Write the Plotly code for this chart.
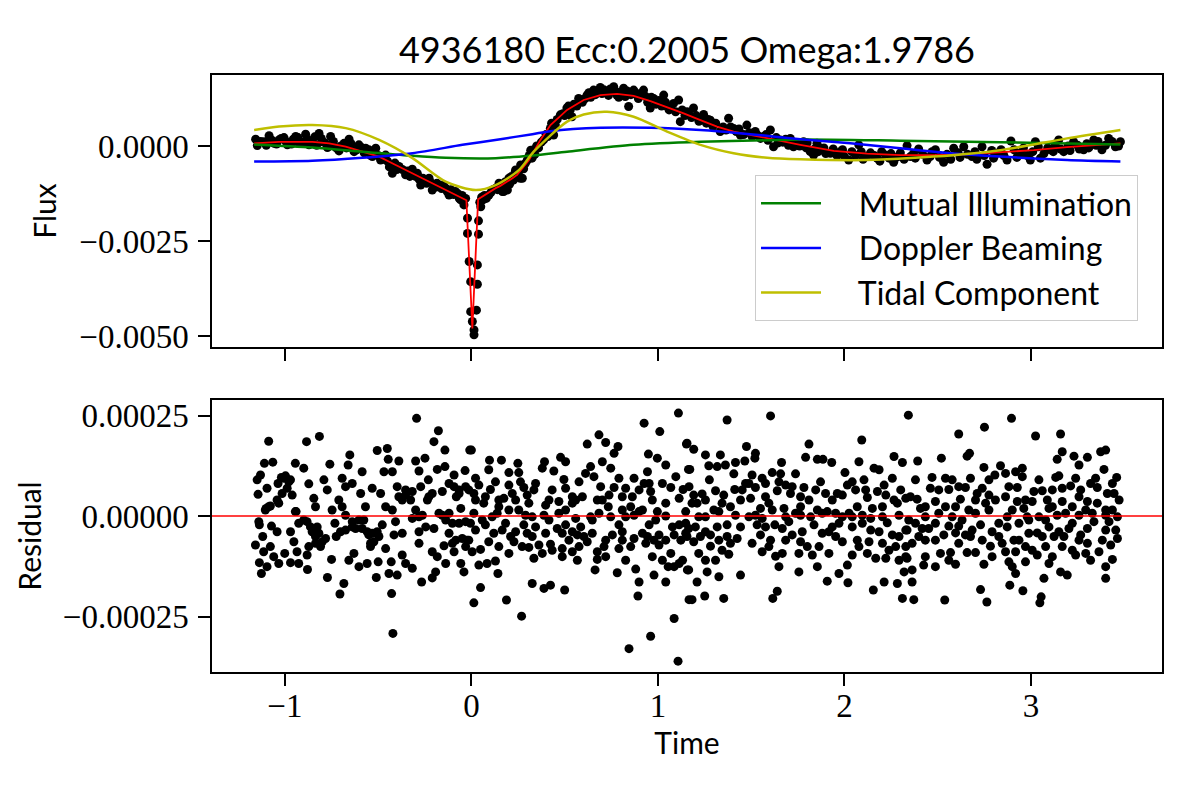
import plotly.graph_objects as go

# light curve fit
# flux values in units of 1e-3, residuals in units of 1e-5

model_t = [-1.165, -1.031, -0.853, -0.763, -0.674, -0.584, -0.495, -0.406, -0.316, -0.227,
           -0.138, -0.066, -0.027, 0.005, 0.036, 0.130, 0.155, 0.220, 0.245, 0.309, 0.334,
           0.370, 0.424, 0.513, 0.602, 0.692, 0.781, 0.870, 0.960, 1.049, 1.138, 1.228,
           1.317, 1.406, 1.496, 1.586, 1.764, 1.943, 2.122, 2.300, 2.479, 2.658, 2.836,
           3.015, 3.194, 3.373, 3.480]
model_f = [0.07, 0.11, 0.11, 0.07, -0.02, -0.15, -0.28, -0.50, -0.72, -0.94,
           -1.16, -1.33, -1.43, -4.80, -1.40, -1.11, -1.05, -0.85, -0.76, -0.37, -0.15,
           0.16, 0.55, 0.95, 1.21, 1.34, 1.37, 1.32, 1.18, 1.03, 0.86, 0.68,
           0.51, 0.38, 0.29, 0.20, 0.03, -0.13, -0.20, -0.24, -0.24, -0.22, -0.17,
           -0.11, -0.03, 0.04, 0.07]

illum_t = [-1.165, -0.853, -0.584, -0.316, -0.138, 0.130, 0.327, 0.513, 0.870, 1.228,
           1.586, 1.764, 2.300, 2.836, 3.480]
illum_f = [0.04, -0.04, -0.15, -0.26, -0.31, -0.32, -0.25, -0.15, 0.03, 0.11,
           0.15, 0.17, 0.14, 0.10, 0.04]

beam_t = [-1.165, -0.853, -0.584, -0.316, -0.048, 0.155, 0.327, 0.424, 0.692, 0.960,
          1.228, 1.496, 1.764, 2.032, 2.300, 2.568, 2.836, 3.194, 3.480]
beam_f = [-0.41, -0.39, -0.31, -0.19, 0.03, 0.18, 0.31, 0.39, 0.48, 0.48,
          0.42, 0.31, 0.18, 0.07, -0.06, -0.19, -0.28, -0.37, -0.41]

tidal_t = [-1.165, -1.031, -0.853, -0.674, -0.495, -0.316, -0.138, 0.023, 0.130, 0.256,
           0.334, 0.513, 0.602, 0.727, 0.870, 1.049, 1.228, 1.406, 1.586, 1.764,
           2.122, 2.479, 2.836, 3.194, 3.480]
tidal_f = [0.42, 0.51, 0.55, 0.47, 0.16, -0.32, -0.94, -1.16, -1.03, -0.63,
           -0.15, 0.64, 0.83, 0.90, 0.77, 0.38, 0.03, -0.19, -0.31, -0.35,
           -0.37, -0.28, -0.11, 0.20, 0.42]

# observed flux, outer dots of the band and the eclipse
data_t = [-1.157, -1.148, -1.112, -1.085, -1.058, -1.032, -1.005, -0.987, -0.942, -0.924,
          -0.889, -0.871, -0.817, -0.799, -0.772, -0.755, -0.710, -0.683, -0.656, -0.629,
          -0.603, -0.567, -0.513, -0.531, -0.487, -0.460, -0.424, -0.433, -0.388, -0.353,
          -0.317, -0.290, -0.272, -0.227, -0.210, -0.174, -0.138, -0.120, -0.085, -0.058,
          -0.040, -0.031,
          -0.021, -0.021, -0.012, -0.004, -0.004, 0.005, 0.014, 0.014, 0.038, 0.038,
          0.032, 0.032, 0.027,
          0.050, 0.062, 0.094, 0.130, 0.148, 0.166, 0.193, 0.201, 0.237, 0.273,
          0.264, 0.300, 0.318,
          0.173, 0.191, 0.262, 0.235, 0.325, 0.334, 0.387, 0.423, 0.441, 0.477,
          0.512, 0.539, 0.584, 0.620, 0.655, 0.691, 0.727, 0.763, 0.780, 0.816,
          0.843, 0.870, 0.923, 0.959, 0.977, 1.031, 1.049, 1.084, 1.111, 1.120,
          1.156, 1.191, 1.245, 1.281, 1.334, 1.379, 1.406, 1.442, 1.477, 1.522,
          1.567, 1.603, 1.620, 1.656, 1.710, 1.727, 1.781, 1.817, 1.853,
          1.782, 1.835, 1.871, 1.925, 1.978, 2.023, 2.077, 2.121, 2.175, 2.220,
          2.264, 2.336, 2.354, 2.398, 2.443, 2.488, 2.532, 2.586, 2.640, 2.684,
          2.738, 2.765, 2.818, 2.872, 2.893, 2.943, 2.997, 3.024, 3.051, 3.104,
          3.149, 3.176, 3.229, 3.283, 3.337, 3.381, 3.417, 3.453, 3.480]
data_f = [0.18, 0.01, 0.11, 0.27, 0.07, 0.16, 0.22, 0.03, 0.25, 0.07,
          0.31, 0.03, 0.33, 0.11, -0.04, 0.25, -0.13, 0.07, 0.18, -0.15,
          0.03, -0.06, -0.06, -0.28, -0.37, -0.24, -0.72, -0.50, -0.54, -0.76,
          -0.61, -0.72, -1.03, -0.85, -1.16, -1.03, -1.11, -1.29, -1.20, -1.42,
          -1.55, -1.38,
          -1.90, -2.30, -3.04, -3.57, -4.36, -4.62, -4.84, -4.97, -1.97, -2.32,
          -3.13, -3.64, -4.32,
          -1.60, -1.42, -1.29, -1.11, -0.98, -1.20, -1.16, -0.85, -0.63, -0.85,
          -0.50, -0.37, -0.11,
          -1.20, -1.07, -0.85, -0.68, -0.32, -0.10, 0.16, 0.46, 0.29, 0.82,
          1.00, 0.77, 1.21, 1.34, 1.47, 1.54, 1.43, 1.56, 1.34, 1.52,
          1.04, 1.47, 1.47, 1.00, 1.25, 1.34, 1.04, 1.12, 1.21, 0.64,
          0.90, 1.00, 0.83, 0.68, 0.38, 0.73, 0.46, 0.29, 0.55, 0.38,
          0.25, 0.42, -0.02, 0.16, 0.20, -0.02, 0.11, -0.15, 0.07,
          0.03, -0.24, -0.06, -0.19, -0.15, -0.37, 0.03, -0.28, -0.32, -0.24,
          -0.43, 0.01, -0.28, -0.08, -0.37, -0.10, -0.43, -0.06, -0.02, -0.28,
          -0.02, -0.48, -0.19, -0.37, 0.13, -0.19, -0.37, 0.11, -0.32, -0.10,
          0.16, -0.15, 0.11, -0.10, 0.16, -0.10, 0.20, -0.02, 0.11]

# observed flux, dots inside the band
band_t = [-1.13, -1.10, -1.07, -1.045, -1.02, -0.995, -0.965, -0.955, -0.93, -0.905,
          -0.88, -0.86, -0.84, -0.83, -0.805, -0.785, -0.765, -0.74, -0.725, -0.70,
          -0.67, -0.645, -0.615, -0.59, -0.575, -0.55, -0.54, -0.52, -0.50, -0.475,
          -0.45, -0.44, -0.41, -0.40, -0.37, -0.34, -0.33, -0.30, -0.28, -0.26,
          -0.24, -0.22, -0.19, -0.185, -0.16, -0.15, -0.13, -0.11, -0.095, -0.075,
          -0.065, -0.05, -0.045,
          0.045, 0.055, 0.07, 0.08, 0.105, 0.115, 0.14, 0.155, 0.18, 0.205,
          0.215, 0.225, 0.25, 0.255, 0.28, 0.29, 0.31, 0.34, 0.35, 0.36,
          0.375, 0.40, 0.41, 0.43, 0.45, 0.46, 0.49, 0.50, 0.52, 0.53,
          0.55, 0.565, 0.575, 0.595, 0.61, 0.63, 0.64, 0.665, 0.68, 0.70,
          0.71, 0.735, 0.745, 0.77, 0.79, 0.80, 0.825, 0.835, 0.855, 0.88,
          0.895, 0.91, 0.935, 0.945, 0.965, 0.99, 1.005, 1.02, 1.04, 1.06,
          1.07, 1.095, 1.13, 1.145, 1.165, 1.18, 1.205, 1.22, 1.235, 1.26,
          1.27, 1.295, 1.31, 1.35, 1.365, 1.39, 1.42, 1.435, 1.46, 1.49,
          1.505, 1.535, 1.55, 1.58, 1.59, 1.635, 1.645, 1.67, 1.685, 1.70,
          1.74, 1.76, 1.795, 1.80, 1.84, 1.86, 1.89, 1.90, 1.94, 1.96,
          1.99, 2.00, 2.04, 2.06, 2.09, 2.10, 2.14, 2.16, 2.19, 2.20,
          2.24, 2.25, 2.28, 2.30, 2.32, 2.37, 2.38, 2.42, 2.46, 2.47,
          2.51, 2.55, 2.57, 2.61, 2.62, 2.66, 2.70, 2.71, 2.75, 2.79,
          2.80, 2.84, 2.855, 2.91, 2.925, 2.96, 2.98, 3.01, 3.04, 3.07,
          3.09, 3.12, 3.13, 3.16, 3.20, 3.21, 3.25, 3.26, 3.30, 3.31,
          3.35, 3.36, 3.40, 3.435, 3.47]
band_f = [0.12, 0.02, 0.15, 0.05, 0.20, 0.12, 0.05, 0.18, 0.22, 0.10,
          0.18, 0.10, 0.24, 0.02, 0.20, 0.08, 0.00, 0.12, -0.05, 0.00,
          -0.05, 0.06, -0.10, -0.04, -0.18, -0.10, -0.25, -0.18, -0.25, -0.35,
          -0.40, -0.55, -0.45, -0.62, -0.62, -0.66, -0.80, -0.80, -0.88, -0.85,
          -0.98, -0.95, -1.08, -0.98, -1.12, -1.03, -1.20, -1.15, -1.28, -1.25,
          -1.38, -1.30, -1.45,
          -1.48, -1.35, -1.30, -1.38, -1.22, -1.15, -1.15, -1.05, -0.95, -1.00,
          -0.80, -0.90, -0.72, -0.80, -0.60, -0.45, -0.25, -0.22, 0.00, -0.05,
          0.10, 0.30, 0.25, 0.60, 0.55, 0.70, 0.85, 0.80, 1.05, 0.95,
          1.10, 1.05, 1.25, 1.15, 1.25, 1.40, 1.28, 1.35, 1.45, 1.38,
          1.48, 1.33, 1.50, 1.45, 1.28, 1.42, 1.30, 1.45, 1.35, 1.40,
          1.25, 1.38, 1.30, 1.15, 1.28, 1.10, 1.20, 1.05, 1.15, 0.95,
          1.05, 0.90, 0.95, 0.80, 0.85, 0.75, 0.80, 0.65, 0.72, 0.60,
          0.70, 0.52, 0.60, 0.50, 0.42, 0.50, 0.38, 0.45, 0.30, 0.35,
          0.25, 0.28, 0.20, 0.30, 0.15, 0.22, 0.08, 0.10, 0.18, 0.02,
          0.08, 0.00, -0.05, 0.08, -0.08, -0.15, -0.05, -0.20, -0.08, -0.25,
          -0.10, -0.28, -0.15, -0.25, -0.15, -0.35, -0.18, -0.25, -0.40, -0.15,
          -0.32, -0.20, -0.30, -0.18, -0.35, -0.20, -0.32, -0.22, -0.28, -0.15,
          -0.30, -0.22, -0.35, -0.18, -0.30, -0.22, -0.15, -0.35, -0.25, -0.12,
          -0.32, -0.10, -0.25, -0.10, -0.30, -0.05, -0.25, -0.15, -0.02, -0.20,
          -0.05, -0.15, 0.05, -0.08, 0.00, -0.12, 0.02, -0.08, 0.06, -0.05,
          0.02, 0.12, 0.02, 0.12, 0.00]

res_t = [
    -1.087, -1.110, -1.065, -1.131, -1.149, -1.144, -1.096, -1.101, -1.078, -1.140,
    -1.137, -1.072, -1.119, -1.158, -1.114, -1.078, -1.137, -1.126, -1.096, -1.060,
    -1.033, -1.001, -1.042, -1.033, -1.037, -1.006, -0.979, -0.988, -0.961, -0.944,
    -0.899, -0.884, -0.815, -0.872, -0.940, -0.970, -0.952, -0.970, -0.926, -0.935,
    -0.881, -0.879, -0.863, -0.872, -0.845, -0.836, -0.827, -0.836, -0.809, -0.782,
    -0.791, -0.773, -0.759, -0.747, -0.732, -0.750, -0.772, -0.705, -0.684, -0.725,
    -0.711, -0.693, -0.675, -0.661, -0.652, -0.639, -0.621, -0.657, -0.630, -0.603,
    -0.559, -0.586, -0.594, -0.568, -0.577, -0.550, -0.532, -0.541, -0.505, -0.451,
    -0.446, -0.389, -0.469, -0.424, -0.487, -0.460, -0.424, -0.478, -0.496, -0.460,
    -0.500, -0.510, -0.442, -0.398, -0.430, -0.428, -0.421, -0.407, -0.398, -0.371,
    -0.353, -0.317, -0.371, -0.353, -0.317, -0.415, -0.371, -0.317, -0.281, -0.281,
    -0.294, -0.299, -0.249, -0.281, -0.272, -0.231, -0.228, -0.263, -0.245, -0.201,
    -0.210, -0.183, -0.138, -0.192, -0.210, -0.267, -0.201, -0.177, -0.142, -0.183,
    -0.142, -0.156, -0.120, -0.093, -0.066, -0.034, -0.081, -0.156, -0.120, -0.102,
    -0.066, -0.031, -0.147, -0.102, -0.093, -0.057, -0.040, -0.049, -0.057, -0.009,
    0.000, 0.097, 0.161, 0.249, 0.392, 0.478, 0.505, 0.621, 0.684, 0.720,
    0.786, 0.765, 0.702, 0.747, 0.926, 1.010, 1.110, 1.153, 0.949, 0.997,
    1.042, 1.164, 0.022, 0.093, 0.201, 0.254, 0.380, 0.442, 0.496, 0.577,
    0.639, 0.657, 0.791, 0.872, 0.944, 0.953, 1.096, 1.069, 1.135, -0.014,
    0.040, 0.102, 0.129, 0.201, 0.281, 0.344, 0.433, 0.559, 0.595, 0.693,
    0.702, 0.765, 0.827, 0.899, 0.961, 1.024, 0.022, 0.066, 0.147, 0.174,
    0.237, 0.299, 0.308, 0.398, 0.469, 0.541, 0.734, 0.809, 0.854, 0.917,
    0.997, 1.149, -0.005, 0.058, 0.111, 0.183, 0.254, 0.326, 0.389, 0.469,
    0.639, 0.648, 0.747, 0.791, 0.872, 0.953, 1.042, 1.114, 0.022, 0.075,
    0.165, 0.210, 0.281, 0.299, 0.344, 0.460, 0.505, 0.586, 0.568, 0.603,
    0.756, 0.809, 0.872, 0.944, 1.006, 1.087, 1.149, -0.014, 0.049, 0.093,
    0.201, 0.228, 0.308, 0.362, 0.424, 0.487, 0.523, 0.541, 0.621, 0.675,
    0.675, 0.711, 0.791, 0.854, 0.827, 0.935, 1.006, 1.069, 0.040, 0.084,
    0.129, 0.142, 0.335, 0.487, 0.568, 0.663, 0.782, 0.881, 0.899, 0.979,
    1.042, 1.055, 1.114, 1.158, 0.049, 0.013, 0.188, 0.269, 0.326, 0.389,
    0.424, 0.500, 0.893, 1.087, 0.961, 0.845, 1.108, 1.167,
    1.156, 1.192, 1.255, 1.335, 1.371, 1.475, 1.523, 1.520, 1.604, 1.663,
    1.810, 1.792, 1.855, 1.885, 1.932, 2.093, 2.078, 2.266, 2.311, 2.343,
    1.171, 1.273, 1.318, 1.362, 1.416, 1.466, 1.407, 1.276, 1.505, 1.559,
    1.613, 1.658, 1.738, 1.783, 1.872, 2.003, 2.042, 2.105, 2.159, 2.186,
    2.257, 1.192, 1.237, 1.309, 1.353, 1.412, 1.452, 1.488, 1.523, 1.577,
    1.640, 1.685, 1.711, 1.765, 1.846, 1.935, 1.989, 2.060, 2.123, 2.177,
    2.222, 2.302, 2.329, 1.183, 1.255, 1.300, 1.389, 1.443, 1.497, 1.550,
    1.595, 1.676, 1.765, 1.855, 1.908, 1.953, 2.025, 2.069, 2.150, 2.204,
    2.284, 1.219, 1.416, 1.488, 1.559, 1.685, 1.765, 1.819, 2.042, 2.141,
    1.165, 1.255, 1.371, 1.443, 1.532, 1.627, 1.702, 1.837, 1.935, 1.971,
    2.096, 2.141, 2.230, 2.329, 1.156, 1.192, 1.282, 1.371, 1.425, 1.550,
    1.604, 1.720, 1.765, 1.801, 1.917, 1.989, 2.069, 2.204, 2.257, 2.275,
    1.219, 1.282, 1.389, 1.380, 1.595, 1.667, 1.631, 1.828, 1.917, 2.042,
    2.123, 2.168, 2.239, 2.293, 1.165, 1.264, 1.309, 1.327, 1.443, 1.649,
    1.756, 1.855, 2.016, 1.971, 2.320, 1.210, 1.908, 2.019, 2.213, 2.284,
    1.183, 1.251, 1.353, 1.616, 1.640, 2.155, 2.311,
    2.613, 2.751, 2.896, 3.025, 3.159, 2.393, 2.520, 2.658, 2.671, 3.168,
    3.141, 3.231, 3.258, 3.303, 3.374, 3.401, 3.392, 3.460, 2.470, 2.461,
    2.542, 2.578, 2.560, 2.676, 2.649, 2.748, 2.837, 2.807, 2.864, 2.918,
    2.954, 2.954, 2.927, 3.133, 3.150, 3.168, 3.213, 3.267, 3.347, 3.356,
    3.410, 3.446, 2.354, 2.390, 2.408, 2.488, 2.542, 2.622, 2.703, 2.712,
    2.775, 2.810, 2.864, 2.927, 2.971, 3.016, 3.061, 3.007, 3.088, 3.097,
    3.168, 3.222, 3.258, 3.303, 3.356, 3.401, 3.473, 3.464, 2.345, 2.434,
    2.506, 2.578, 2.703, 2.775, 2.873, 2.980, 3.043, 3.141, 3.258, 3.294,
    3.401, 2.336, 2.417, 2.488, 2.560, 2.613, 2.730, 2.792, 2.873, 2.989,
    3.034, 3.097, 3.150, 3.204, 3.267, 3.338, 3.401, 3.455, 2.363, 2.434,
    2.533, 2.596, 2.649, 2.676, 2.783, 2.846, 2.909, 2.936, 2.989, 3.061,
    3.079, 3.124, 3.177, 3.222, 3.303, 3.365, 3.428, 3.464, 2.336, 2.515,
    2.569, 2.658, 2.703, 2.864, 2.882, 2.971, 3.007, 3.034, 3.097, 3.115,
    3.240, 3.320, 3.437, 2.363, 2.425, 2.488, 2.596, 2.748, 2.900, 2.918,
    3.159, 3.195, 2.363, 3.070, 3.401, 2.372, 2.538, 2.730, 2.764, 2.887,
    2.957, 3.048, 3.055]
res_v = [
    18.6, 13.1, 13.4, 10.2, 9.0, 5.4, 6.9, 1.9, 2.5, -1.4,
    -2.2, -2.5, -5.1, -7.2, -8.9, -7.6, -11.6, -14.3, -12.6, -10.1,
    -11.8, -9.3, -3.9, 3.2, 8.1, 9.4, 8.5, 6.9, 5.2, 13.1,
    11.9, 18.5, 19.8, 8.0, 1.1, -3.9, -6.4, -11.6, -11.8, -8.9,
    -9.7, -13.3, -2.7, -7.6, 4.4, 2.3, -2.7, -5.1, -7.6, -5.6,
    9.0, 6.5, 12.9, 1.5, -1.8, -10.8, -15.3, -19.4, -16.8, -5.1,
    4.0, 9.4, 7.3, 12.7, 15.2, 8.1, -3.1, -11.0, -9.3, -12.6,
    -11.8, 11.0, 5.6, 2.3, -1.0, -4.7, 6.9, -6.8, 16.3, 16.8,
    14.1, 13.7, 11.0, 11.0, 5.6, 2.3, 1.5, -2.2, -5.1, -8.1,
    -11.4, -15.3, -14.3, -14.7, -11.4, -19.3, -29.2, -1.4, 7.3, 4.0,
    6.5, 6.1, -9.7, -11.8, -13.0, -4.7, -4.3, -0.6, -3.9, -6.8,
    24.3, 13.7, 14.4, 11.2, 7.3, 9.0, 4.8, 0.2, -2.7, -3.1,
    -8.9, -10.1, -11.8, -13.9, -15.4, -16.4, 18.5, 21.2, 16.4, 11.6,
    12.3, 6.1, 8.1, 10.2, 6.5, 11.3, 4.8, 0.2, 0.7, -1.8,
    -1.8, -1.4, -7.4, -6.8, -8.9, -11.8, -13.9, -5.6, 1.9, 16.4,
    16.4, 13.9, 13.9, 13.1, 13.5, 14.6, 13.5, 17.9, 20.2, 18.3,
    17.3, 15.6, 13.5, 11.9, 23.1, 21.0, 25.6, 17.9, 15.4, 14.4,
    12.7, 11.6, 9.4, 11.5, 10.8, 10.8, 11.9, 11.2, 9.1, 8.5,
    12.3, 9.8, 9.4, 9.4, 11.0, 8.1, 9.8, 7.1, 6.6, 6.5,
    7.7, 6.6, 8.5, 7.7, 7.1, 8.1, 6.5, 4.0, 4.8, 7.3,
    4.0, 7.1, 6.9, 6.5, 6.1, 8.1, 4.0, 3.2, 2.3, 4.4,
    4.0, 5.2, 3.2, 2.7, 3.6, 3.2, 2.3, 1.5, 2.3, 1.5,
    1.1, 1.1, -1.8, -1.0, -0.2, -1.8, 1.5, -0.2, 0.2, 0.7,
    -0.2, -1.0, -0.2, -2.2, 0.2, -2.2, 0.0, -2.2, -3.5, -2.2,
    -3.5, -5.1, -2.2, -4.3, -2.7, -3.1, -2.2, -2.7, -4.7, -5.1,
    -4.7, -3.9, -5.6, -5.1, -4.7, -4.7, -4.3, -6.0, -8.3, -6.4,
    -9.3, -6.4, -7.8, -7.2, -7.0, -8.1, -6.0, -8.9, -6.4, -8.9,
    -10.8, -7.6, -8.1, -7.6, -11.0, -6.8, -7.2, -9.3, -12.2, -11.8,
    -11.2, -14.3, -10.5, -10.1, -11.0, -13.4, -14.1, -13.2, -16.4, -14.7,
    -16.4, -12.6, -11.8, -13.4, -17.8, -21.6, -20.9, -24.9, -16.8, -18.0,
    -17.2, -18.4, -19.9, -25.5, -29.9, -33.0, -36.1, -20.8,
    18.1, 16.6, 15.2, 15.2, 23.9, 17.3, 15.6, 14.4, 24.9, 13.3,
    17.9, 14.6, 14.1, 14.1, 13.3, 18.9, 13.5, 14.8, 13.3, 25.1,
    11.6, 12.5, 12.3, 12.7, 13.3, 13.7, 10.5, 9.0, 10.2, 9.4,
    10.8, 10.5, 10.5, 7.1, 8.5, 10.8, 8.5, 9.0, 11.9, 11.5,
    9.4, 5.2, 5.5, 6.3, 5.2, 6.6, 6.5, 8.1, 7.1, 4.8,
    6.3, 7.7, 5.6, 4.8, 6.5, 4.0, 5.2, 6.5, 4.6, 6.1,
    5.2, 6.5, 4.4, 3.2, 4.0, 1.5, 2.3, 4.0, 4.4, 1.9,
    3.2, 1.9, 2.3, 1.5, 1.1, 0.7, 0.7, 2.3, 1.9, 2.3,
    3.2, -0.2, 0.2, -0.2, -0.6, -0.2, 0.2, -0.2, -0.2, -0.6,
    -3.1, -3.9, -2.2, -2.7, -2.2, -2.2, -1.4, -2.2, -2.7, -1.8,
    -1.8, -3.5, -1.7, -3.5, -5.1, -6.4, -4.7, -5.1, -5.6, -4.7,
    -6.0, -4.7, -6.4, -7.6, -3.9, -6.4, -6.0, -6.8, -4.7, -7.6,
    -9.3, -7.5, -6.8, -9.5, -7.6, -9.3, -10.0, -9.7, -9.3, -9.7,
    -9.3, -10.5, -8.5, -11.0, -13.4, -13.9, -11.0, -15.1, -14.7, -12.6,
    -13.9, -12.6, -12.2, -14.3, -13.9, -16.4, -16.2, -16.6, -16.4, -16.8,
    -20.8, -19.9, -20.5, -20.5, -18.7, -18.4, -20.5,
    20.4, 22.1, 24.3, 19.9, 20.4, 13.7, 14.4, 14.9, 15.6, 16.0,
    14.1, 14.9, 12.7, 14.6, 16.0, 16.4, 11.6, 9.6, 9.6, 6.9,
    9.4, 9.0, 6.6, 9.4, 7.1, 12.1, 12.5, 10.2, 10.6, 11.0,
    11.9, 9.8, 7.1, 9.6, 10.0, 6.9, 7.5, 6.5, 9.4, 7.1,
    5.6, 5.6, 4.8, 4.2, 1.9, 3.6, 2.3, 4.2, 4.0, 5.6,
    5.2, 4.0, 4.8, 3.6, 4.0, 6.1, 6.3, 3.6, 4.0, 1.9,
    3.6, 2.3, 4.8, 3.6, 3.2, 1.5, 4.0, -0.2, -1.0, -0.2,
    0.7, -0.2, 0.7, 1.5, -0.2, -0.2, -0.2, 0.2, 0.2, 1.5,
    0.2, -3.5, -3.1, -1.8, -2.5, -2.5, -2.2, -3.9, -2.7, -1.0,
    -4.2, -2.7, -3.9, -3.1, -4.7, -1.4, -3.5, -3.5, -6.8, -6.0,
    -4.7, -4.2, -4.7, -5.1, -7.5, -6.8, -6.0, -6.0, -4.3, -5.1,
    -7.6, -5.1, -5.1, -8.5, -6.8, -8.9, -7.2, -5.6, -10.5, -9.3,
    -9.1, -9.1, -9.1, -8.9, -11.4, -11.4, -8.5, -9.7, -11.8, -10.1,
    -9.7, -11.0, -10.8, -13.4, -12.2, -12.6, -12.0, -12.0, -12.6, -14.3,
    -13.9, -14.7, -16.4, -15.5, -15.5, -20.8, -20.9, -18.3, -21.4, -17.2,
    -18.6, -21.6, -20.1]

# residual dots in the crowded middle of the cloud
res_t2 = [
    -1.019, -0.997, -0.970, -1.015, -1.042, -1.105, -1.087, -0.944, -0.926, -0.899,
    -0.881, -0.854, -0.818, -0.800, -0.836, -0.693, -0.675, -0.639, -0.603, -0.586,
    -0.559, -0.532, -0.505, -0.523, -0.541, -0.639, -0.675, -0.702, -0.389, -0.353,
    -0.326, -0.299, -0.281, -0.236, -0.210, -0.174, -0.138, -0.093, -0.066, -0.031,
    -0.120, -0.084, -0.022, -0.031,
    0.013, 0.075, 0.147, 0.219, 0.263, 0.335, 0.416, 0.505, 0.541, 0.612,
    0.675, 0.738, 0.809, 0.863, 0.926, 0.970, 1.042, 1.114, 1.167, 0.013,
    0.138, 0.201, 0.290, 0.416, 0.505, 0.559, 0.684, 0.827, 0.899, 0.988,
    1.078, 1.149, 0.120, 0.237, 0.326, 0.398, 0.487, 0.541, 0.648, 0.720,
    0.809, 0.917, 0.979, 1.042, 1.123, 0.004, 0.147, 0.272, 0.380, 0.433,
    0.577, 0.720, 0.970, 1.024, 1.087, 1.132,
    1.210, 1.344, 1.470, 1.577, 1.649, 1.720, 1.810, 1.899, 1.962, 2.016,
    2.114, 2.213, 2.266, 1.255, 1.327, 1.523, 1.613, 1.738, 1.881, 1.989,
    2.096, 2.204, 2.293, 1.201, 1.318, 1.577, 1.667, 1.774, 1.881, 2.042,
    2.186, 2.293, 1.228, 1.327, 1.505, 1.685, 1.953, 2.132, 2.329, 1.255,
    1.344, 1.559, 1.756, 1.864, 2.078, 2.222, 2.329,
    2.381, 2.506, 2.613, 2.739, 2.775, 2.882, 3.043, 3.115, 3.240, 3.320,
    3.437, 2.434, 2.596, 2.667, 2.757, 2.900, 2.962, 3.115, 3.186, 3.329,
    3.437, 2.381, 2.452, 2.631, 2.685, 2.828, 2.936, 3.079, 3.222, 3.303,
    3.419, 2.399, 2.488, 2.613, 2.739, 2.828, 2.971, 3.168, 3.258, 3.383,
    2.434, 2.560, 2.792, 2.918, 3.294, 3.401]
res_v2 = [
    9.6, 10.0, 9.0, 5.6, 4.0, 1.5, 2.3, 1.1, -1.8, -1.0,
    -1.4, -3.9, -4.3, -6.4, -6.8, 2.3, 0.2, -1.4, -1.0, -3.1,
    -3.9, -4.3, -3.9, -6.4, -7.6, -2.7, -3.5, -3.9, 4.8, 5.2,
    4.0, 1.5, -0.2, 4.0, 5.6, 0.7, -1.0, 7.3, 5.6, 7.3,
    -4.3, -6.0, -6.0, -7.6,
    5.6, 4.8, 4.0, 5.6, 8.5, 6.5, 4.0, 6.9, 4.8, 10.6,
    4.0, 5.2, 4.8, 4.8, 8.1, 4.0, 3.2, 4.4, 7.3, 0.7,
    0.7, 1.5, 0.2, -1.0, 1.5, -0.6, 0.7, -0.2, 1.1, -1.0,
    -2.7, -1.8, -4.3, -3.9, -5.1, -4.3, -4.3, -3.9, -4.3, -6.0,
    -6.0, -4.3, -6.0, -6.0, -6.0, -8.9, -7.6, -7.6, -9.3, -8.5,
    -7.6, -10.1, -10.1, -11.0, -12.6, -11.0,
    3.2, 3.2, 8.1, 8.1, 8.5, 7.3, 4.0, 5.6, 5.6, 7.7,
    6.5, 7.7, 4.0, -0.2, 1.1, 0.2, 1.5, 0.7, 0.7, -0.2,
    0.2, -0.2, 0.2, -2.7, -2.7, -2.7, -3.1, -3.9, -4.3, -2.7,
    -3.9, -5.1, -5.1, -6.0, -6.8, -6.0, -5.1, -6.4, -7.6, -11.0,
    -8.5, -8.9, -9.3, -7.6, -7.6, -10.5, -10.1,
    9.0, 6.5, 7.3, 6.9, 9.0, 7.3, 9.0, 6.5, 9.4, 8.1,
    8.1, 2.3, 2.3, 1.5, 3.2, 1.5, 1.9, 2.3, 0.7, 0.7,
    1.5, -1.8, -3.1, -1.0, -3.5, -1.8, -1.8, -1.0, -1.8, -3.1,
    -1.4, -5.1, -6.0, -6.8, -6.0, -5.1, -7.6, -7.6, -6.0, -6.0,
    -10.1, -11.0, -10.1, -8.9, -9.3, -12.6]

legend_names = ["Mutual Illumination", "Doppler Beaming", "Tidal Component"]

sans = "Lato"
serif = "Liberation Serif"
gap = "\u00a0" * 4

fig = go.Figure()

# top panel
fig.add_trace(go.Scatter(x=data_t + band_t, y=[v * 1e-3 for v in data_f + band_f],
                         mode="markers", marker=dict(color="black", size=9),
                         showlegend=False, xaxis="x", yaxis="y"))
fig.add_trace(go.Scatter(x=model_t, y=[v * 1e-3 for v in model_f], mode="lines",
                         line=dict(color="red", width=1.8), showlegend=False,
                         xaxis="x", yaxis="y"))
for name, tt, ff, col in [(legend_names[0], illum_t, illum_f, "green"),
                          (legend_names[1], beam_t, beam_f, "blue"),
                          (legend_names[2], tidal_t, tidal_f, "#bfbf00")]:
    fig.add_trace(go.Scatter(x=tt, y=[v * 1e-3 for v in ff], mode="lines", name=gap + name,
                             line=dict(color=col, width=2.5, shape="spline", smoothing=0.8),
                             xaxis="x", yaxis="y"))

# residual panel
fig.add_trace(go.Scatter(x=res_t + res_t2, y=[v * 1e-5 for v in res_v + res_v2],
                         mode="markers", marker=dict(color="black", size=9),
                         showlegend=False, xaxis="x2", yaxis="y2"))
fig.add_shape(type="line", xref="x2 domain", yref="y2", x0=0, x1=1, y0=0, y1=0,
              line=dict(color="red", width=1.5))

axis_common = dict(showline=True, mirror=True, linecolor="black", linewidth=1.5,
                   showgrid=False, zeroline=False, ticks="outside", ticklen=12,
                   tickwidth=2, tickcolor="black",
                   tickfont=dict(family=serif, size=33, color="black"))

fig.update_layout(
    width=1200, height=800,
    plot_bgcolor="white", paper_bgcolor="white",
    margin=dict(l=204, r=46, t=67, b=136),
    title=dict(text="4936180 Ecc:0.2005 Omega:1.9786", x=0.5658, xanchor="center",
               y=0.9475, yanchor="middle", font=dict(family=sans, size=36, color="black")),
    xaxis=dict(domain=[0, 1], anchor="y", range=[-1.391, 3.703], matches="x2",
               tickvals=[-1, 0, 1, 2, 3], showticklabels=False, **axis_common),
    yaxis=dict(domain=[0.5444, 1], anchor="x", range=[-0.00529, 0.001868],
               tickvals=[0, -0.0025, -0.005], tickformat=".4f", ticklabelstandoff=3,
               title=dict(text="Flux", font=dict(family=sans, size=30, color="black"),
                          standoff=14),
               **axis_common),
    xaxis2=dict(domain=[0, 1], anchor="y2", range=[-1.391, 3.703],
                tickvals=[-1, 0, 1, 2, 3], ticklabelstandoff=-8,
                title=dict(text="Time", font=dict(family=sans, size=30, color="black"),
                           standoff=0),
                **axis_common),
    yaxis2=dict(domain=[0, 0.4556], anchor="x2", range=[-0.000388, 0.0002886],
                tickvals=[0.00025, 0, -0.00025], tickformat=".5f", ticklabelstandoff=3,
                title=dict(text="Residual", font=dict(family=sans, size=30, color="black"),
                           standoff=12),
                **axis_common),
    legend=dict(x=0.5716, y=0.8325, xanchor="left", yanchor="top",
                bgcolor="rgba(255,255,255,0.8)", bordercolor="#cccccc", borderwidth=1,
                font=dict(family=sans, size=32, color="black"), itemwidth=60),
)

fig.write_html("out.html")
